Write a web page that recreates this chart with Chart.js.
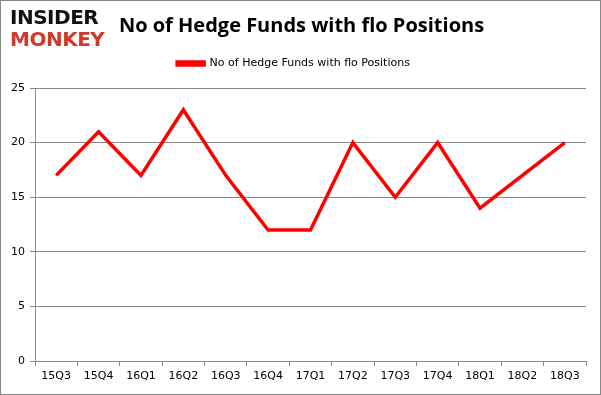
<!DOCTYPE html>
<html>
<head>
<meta charset="utf-8">
<script src="https://cdn.jsdelivr.net/npm/chart.js@4"></script>
<style>
  html, body { margin: 0; padding: 0; background: #fff; }
  #frame { position: relative; width: 599px; height: 393px; border: 1px solid #888; overflow: hidden; }
  #logo { position: absolute; left: 9px; top: 5px; font-family: "DejaVu Sans", sans-serif; font-weight: bold; line-height: 22px; letter-spacing: -0.5px; }
  #logo .a { color: #111; font-size: 20px; }
  #logo .b { color: #d0392b; font-size: 20px; }
  #title { position: absolute; left: 0; width: 601px; top: 10px; text-align: center; font-family: "Open Sans", sans-serif; font-weight: bold; font-size: 20px; color: #000; }
  canvas { position: absolute; left: 0; top: 0; }
</style>
</head>
<body>
<div id="frame">
  <canvas id="chart" width="599" height="393"></canvas>
  <div id="logo"><div class="a">INSIDER</div><div class="b">MONKEY</div></div>
  <div id="title">No of Hedge Funds with flo Positions</div>
</div>
<script>
// quarters on the x axis and the number of funds holding the stock
const quarters = ["15Q3", "15Q4", "16Q1", "16Q2", "16Q3", "16Q4", "17Q1", "17Q2", "17Q3", "17Q4", "18Q1", "18Q2", "18Q3"];
const funds = [17, 21, 17, 23, 17, 12, 12, 20, 15, 20, 14, 17, 20];
const seriesName = "No of Hedge Funds with flo Positions";

const GRID = "#898989";
const TICK_FONT = { family: "'DejaVu Sans', sans-serif", size: 11 };

new Chart(document.getElementById("chart"), {
  type: "line",
  data: {
    labels: quarters,
    datasets: [{
      label: seriesName,
      data: funds,
      borderColor: "#ff0000",
      backgroundColor: "#ff0000",
      borderWidth: 3.5,
      pointRadius: 0,
      tension: 0,
    }],
  },
  options: {
    responsive: false,
    animation: false,
    layout: { padding: { left: 0, right: 14, top: 43, bottom: 0 } },
    plugins: {
      tooltip: { enabled: false },
      legend: {
        position: "top",
        labels: {
          boxWidth: 27,
          boxHeight: 3,
          color: "#000",
          font: { family: "'DejaVu Sans', sans-serif", size: 11 },
          padding: 14,
        },
      },
      // empty subtitle used only as a gap between legend and plot
      subtitle: {
        display: true,
        text: "",
        weight: 500,
        padding: 0,
        font: { size: 7.5, lineHeight: 1.2 },
      },
    },
    scales: {
      x: {
        offset: true,
        grid: { offset: true, drawOnChartArea: false, tickLength: 5, color: GRID },
        border: { color: GRID },
        ticks: { color: "#000", font: TICK_FONT, padding: 4, maxRotation: 0 },
        afterFit: (s) => { s.height = 33; },
      },
      y: {
        min: 0,
        max: 25,
        ticks: { stepSize: 5, color: "#000", font: TICK_FONT, padding: 5 },
        grid: { color: GRID, tickLength: 5 },
        border: { color: GRID },
        afterFit: (s) => { s.width = 34; },
      },
    },
  },
});
</script>
</body>
</html>
